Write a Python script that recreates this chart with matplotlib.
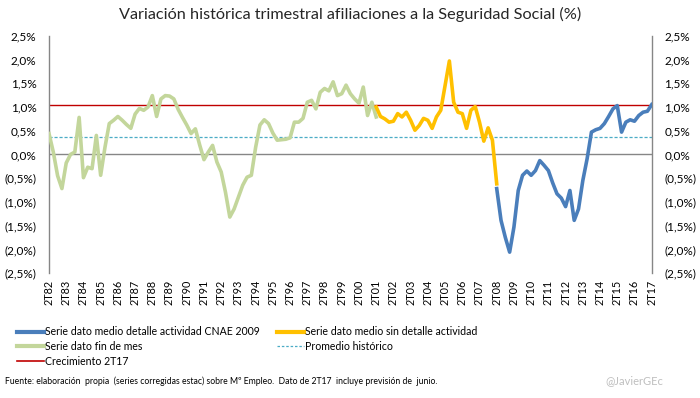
import numpy as np
import matplotlib
matplotlib.use("Agg")
import matplotlib.pyplot as plt
from matplotlib.lines import Line2D
from matplotlib.ticker import FuncFormatter

plt.rcParams['font.family'] = ['Lato', 'DejaVu Sans']

# etiquetas trimestrales (2T de cada año, 2T82 .. 2T17)
years = ['82', '83', '84', '85', '86', '87', '88', '89', '90', '91', '92', '93',
         '94', '95', '96', '97', '98', '99', '00', '01', '02', '03', '04', '05',
         '06', '07', '08', '09', '10', '11', '12', '13', '14', '15', '16', '17']
tick_labels = ['2T' + y for y in years]

# serie fin de mes (2T82 .. 2T01)
green_start = 0
green = [0.44, 0.05, -0.45, -0.72, -0.18, 0.00, 0.05, 0.78, -0.49, -0.27,
         -0.30, 0.40, -0.44, 0.15, 0.65, 0.72, 0.80, 0.72, 0.63, 0.55,
         0.85, 0.97, 0.93, 1.00, 1.24, 0.80, 1.17, 1.24, 1.23, 1.17,
         0.95, 0.78, 0.62, 0.44, 0.54, 0.20, -0.11, 0.05, 0.19, -0.16,
         -0.37, -0.80, -1.32, -1.15, -0.90, -0.65, -0.48, -0.44, 0.15, 0.62,
         0.73, 0.65, 0.45, 0.30, 0.31, 0.32, 0.35, 0.68, 0.68, 0.76,
         1.10, 1.14, 0.96, 1.31, 1.39, 1.34, 1.53, 1.24, 1.28, 1.46,
         1.28, 1.17, 1.08, 1.42, 0.82, 1.10, 0.79]

# serie dato medio sin detalle actividad (2T01 .. 2T08)
yellow_start = 76
yellow = [1.00, 0.80, 0.75, 0.68, 0.70, 0.86, 0.79, 0.89, 0.72, 0.51,
          0.61, 0.76, 0.72, 0.55, 0.79, 0.93, 1.45, 1.97, 1.10, 0.89,
          0.86, 0.55, 0.93, 1.01, 0.68, 0.28, 0.56, 0.30, -0.62]

# serie dato medio detalle actividad CNAE 2009 (2T08 .. 2T17)
blue_start = 104
blue = [-0.72, -1.39, -1.75, -2.06, -1.53, -0.76, -0.44, -0.35, -0.44, -0.34,
        -0.13, -0.23, -0.34, -0.60, -0.83, -0.92, -1.10, -0.76, -1.39, -1.15,
        -0.55, -0.09, 0.47, 0.52, 0.55, 0.65, 0.80, 0.96, 1.03, 0.47,
        0.68, 0.73, 0.70, 0.82, 0.89, 0.91, 1.05]

crecimiento_2t17 = 1.05
promedio = 0.37

c_blue = '#4A7EBB'
c_yellow = '#FFC000'
c_green = '#C3D69B'
c_red = '#C00000'
c_dash = '#4BACC6'
c_axis = '#868686'


def pct(v, pos=None):
    s = f"{abs(v):.1f}".replace('.', ',') + '%'
    return f"({s})" if v < -1e-9 else s


fig = plt.figure(figsize=(7.0, 3.98), dpi=100)
ax = fig.add_axes([0.07, 0.314, 0.861, 0.596])

n = len(tick_labels) * 4 - 3
ax.axhline(0, color=c_axis, lw=1.0, zorder=1)
ax.axhline(crecimiento_2t17, color=c_red, lw=1.0, zorder=2)
ax.axhline(promedio, color=c_dash, lw=0.9, ls=(0, (2.5, 1.5)), zorder=2)

lw = 2.6
ax.plot(np.arange(green_start, green_start + len(green)), green,
        color=c_green, lw=lw, solid_joinstyle='round', zorder=3)
ax.plot(np.arange(yellow_start, yellow_start + len(yellow)), yellow,
        color=c_yellow, lw=lw, solid_joinstyle='round', zorder=4)
ax.plot(np.arange(blue_start, blue_start + len(blue)), blue,
        color=c_blue, lw=lw, solid_joinstyle='round', zorder=5)

ax.set_xlim(0, n - 1)
ax.set_ylim(-2.5, 2.5)
ax.set_yticks(np.arange(-2.5, 2.51, 0.5))
ax.yaxis.set_major_formatter(FuncFormatter(pct))
ax.set_xticks(np.arange(0, n, 4))
ax.set_xticklabels(tick_labels, rotation=90, fontsize=7.8)
ax.tick_params(axis='x', length=0, pad=5)
ax.tick_params(axis='y', length=0, labelsize=8.5, pad=9)

for s in ['top', 'bottom']:
    ax.spines[s].set_visible(False)
for s in ['left', 'right']:
    ax.spines[s].set_color(c_axis)
    ax.spines[s].set_linewidth(1.0)

ax2 = ax.twinx()
ax2.set_ylim(-2.5, 2.5)
ax2.set_yticks(np.arange(-2.5, 2.51, 0.5))
ax2.yaxis.set_major_formatter(FuncFormatter(pct))
ax2.tick_params(axis='y', length=0, labelsize=8.5, pad=9)
for s in ax2.spines.values():
    s.set_visible(False)

fig.text(0.5, 0.963, 'Variación histórica trimestral afiliaciones a la Seguridad Social (%)',
         ha='center', va='center', fontsize=11.7, color='#262626')

h_blue = Line2D([], [], color=c_blue, lw=3)
h_green = Line2D([], [], color=c_green, lw=3)
h_red = Line2D([], [], color=c_red, lw=1.2)
h_yellow = Line2D([], [], color=c_yellow, lw=3)
h_dash = Line2D([], [], color=c_dash, lw=0.9, ls=(0, (2, 1.5)))

leg_kw = dict(frameon=False, fontsize=7.6, handlelength=2.6, handletextpad=0.1,
              labelspacing=0.35, borderaxespad=0, borderpad=0)
fig.legend([h_blue, h_green, h_red],
           ['Serie dato medio detalle actividad CNAE 2009', 'Serie dato fin de mes',
            'Crecimiento 2T17'],
           loc='upper left', bbox_to_anchor=(0.024, 0.18), **leg_kw)
fig.legend([h_yellow, h_dash],
           ['Serie dato medio sin detalle actividad', 'Promedio histórico'],
           loc='upper left', bbox_to_anchor=(0.395, 0.18), **leg_kw)

fig.text(0.007, 0.043, 'Fuente: elaboración  propia  (series corregidas estac) sobre Mº Empleo.  '
         'Dato de 2T17  incluye previsión de  junio.', fontsize=6.2, va='center')
fig.text(0.865, 0.043, '@JavierGEc', fontsize=8, color='#BFBFBF', va='center')

fig.savefig('out.png', dpi=100)
